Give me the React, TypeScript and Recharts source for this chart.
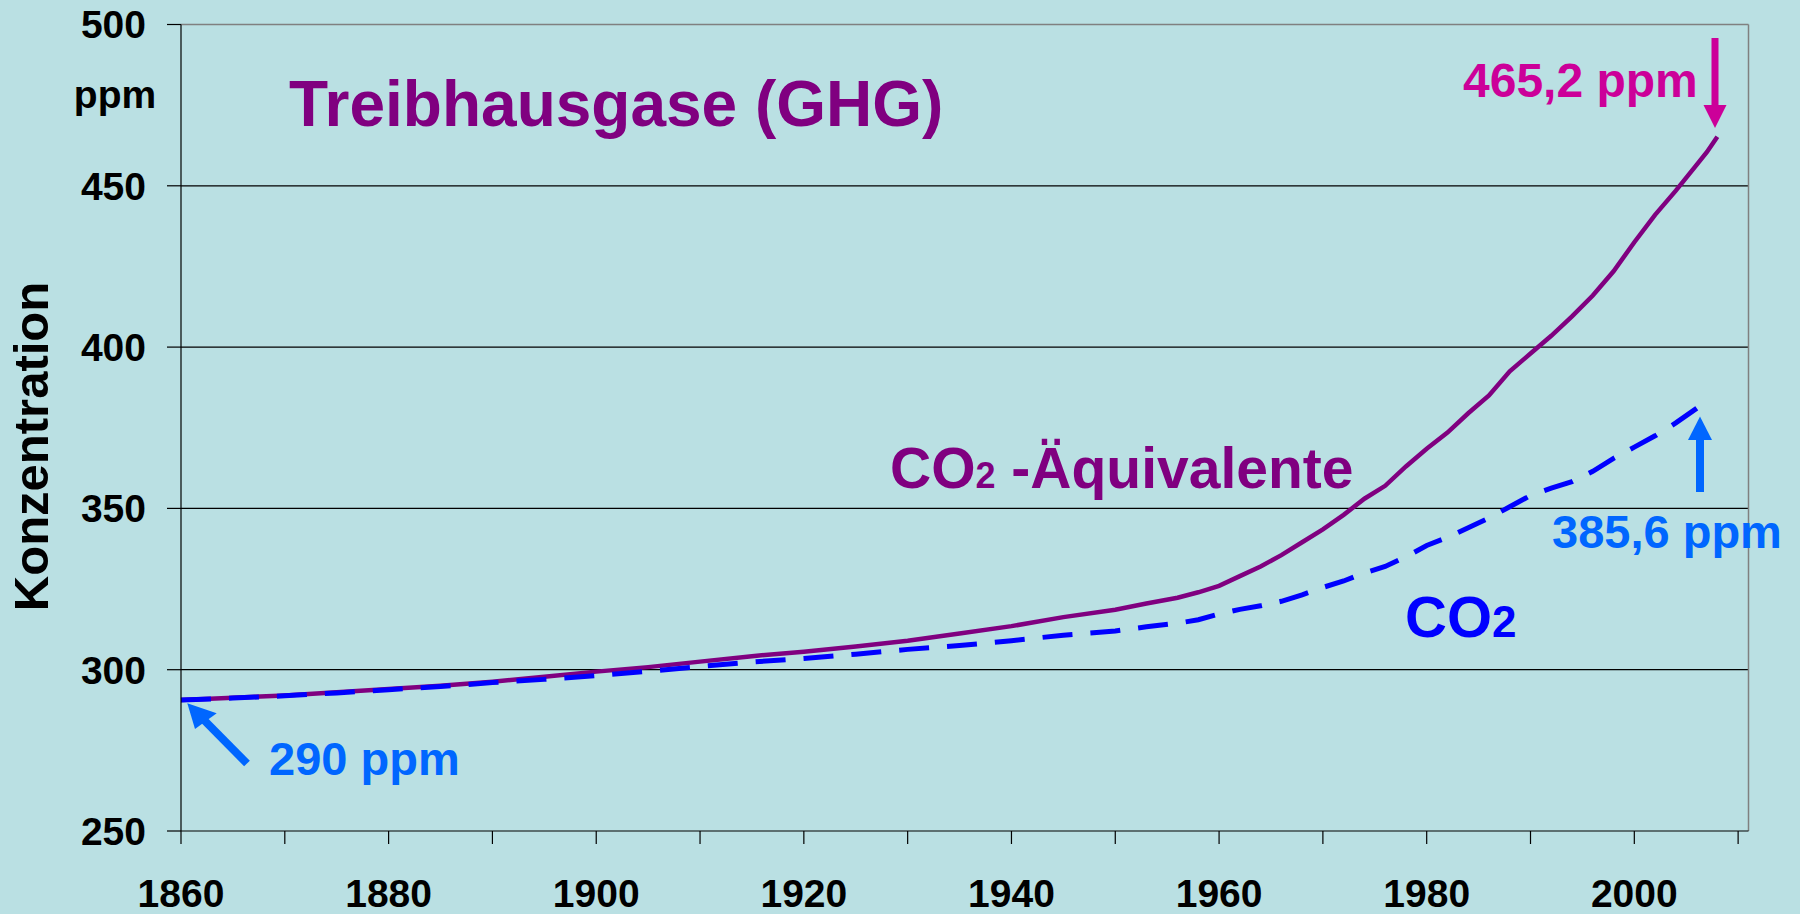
import { LineChart, Line, XAxis, YAxis, ReferenceLine } from "recharts";

const FONT = '"Liberation Sans", Arial, Helvetica, sans-serif';

const years = [
  1860, 1865, 1870, 1875, 1880, 1885, 1890, 1895, 1900, 1905, 1910, 1915, 1920,
  1925, 1930, 1935, 1940, 1945, 1950, 1953, 1956, 1958, 1960, 1962, 1964, 1966,
  1968, 1970, 1972, 1974, 1976, 1978, 1980, 1982, 1984, 1986, 1988, 1990, 1992,
  1994, 1996, 1998, 2000, 2002, 2004, 2006, 2007, 2008,
];

// CO2-Äquivalente (alle Treibhausgase), ppm
const co2eq = [
  290.6, 291.3, 292.0, 293.0, 294.0, 295.0, 296.3, 297.8, 299.4, 300.8, 302.5,
  304.2, 305.6, 307.2, 309.0, 311.2, 313.5, 316.3, 318.6, 320.5, 322.3, 324.0,
  326.0, 329.0, 332.0, 335.5, 339.5, 343.5, 348.0, 353.0, 357.0, 363.0, 368.5,
  373.5, 379.5, 385.0, 392.5, 398.0, 403.5, 409.5, 416.0, 423.5, 432.5, 441.0,
  448.5, 456.5, 460.5, 465.2,
];

// CO2, ppm
const co2 = [
  290.6, 291.2, 291.9, 292.8, 293.8, 294.8, 296.0, 297.0, 298.2, 299.5, 301.0,
  302.4, 303.5, 304.8, 306.3, 307.5, 309.0, 310.7, 312.0, 313.3, 314.4, 315.5,
  317.3, 318.7, 319.8, 321.2, 323.2, 325.5, 327.5, 330.0, 332.0, 335.0, 338.5,
  341.0, 344.0, 347.0, 350.5, 354.0, 356.3, 358.3, 361.5, 365.5, 369.0, 372.5,
  376.5, 381.0, 383.2, null,
];

const yTicks = [250, 300, 350, 400, 450, 500];
const gridValues = [300, 350, 400, 450];
const xTicks = [
  1860, 1870, 1880, 1890, 1900, 1910, 1920, 1930, 1940, 1950, 1960, 1970, 1980,
  1990, 2000, 2010,
];

const data = years.map((year, i) => ({ year, co2eq: co2eq[i], co2: co2[i] }));

const tickStyle = { fill: "#000", fontSize: 39, fontWeight: 700, fontFamily: FONT };

function Annotations() {
  return (
    <svg
      width={1800}
      height={914}
      style={{ position: "absolute", left: 0, top: 0, pointerEvents: "none" }}
      fontFamily={FONT}
      fontWeight={700}
    >
      <text x={115} y={108} textAnchor="middle" fontSize={39} fill="#000">
        ppm
      </text>
      <text
        transform="translate(48,446.5) rotate(-90)"
        textAnchor="middle"
        fontSize={49}
        fill="#000"
      >
        Konzentration
      </text>
      <text x={289} y={126} fontSize={64} fill="#800080">
        Treibhausgase (GHG)
      </text>
      <text x={890} y={488} fontSize={57} fill="#800080">
        CO<tspan fontSize={36}>2</tspan> -Äquivalente
      </text>
      <text x={1405} y={636.5} fontSize={58} fill="#0000FF">
        CO<tspan fontSize={44}>2</tspan>
      </text>

      <text x={1463} y={96.5} fontSize={48} fill="#CC0099">
        465,2 ppm
      </text>
      <line x1={1715} y1={38} x2={1715} y2={106} stroke="#CC0099" strokeWidth={7} />
      <polygon points="1703.5,105 1726.5,105 1715,128" fill="#CC0099" />

      <text x={1552} y={548.3} fontSize={47} fill="#0066FF">
        385,6 ppm
      </text>
      <line x1={1700} y1={492} x2={1700} y2={439} stroke="#0066FF" strokeWidth={8} />
      <polygon points="1688,440 1712,440 1700,416.5" fill="#0066FF" />

      <text x={269} y={775} fontSize={47} fill="#0066FF">
        290 ppm
      </text>
      <line x1={247} y1={763.5} x2={202} y2={718} stroke="#0066FF" strokeWidth={8} />
      <polygon points="187.3,703.3 195,729 216.7,713.3" fill="#0066FF" />
    </svg>
  );
}

export default function App() {
  return (
    <div
      style={{
        position: "absolute",
        left: 0,
        top: 0,
        width: 1800,
        height: 914,
        background: "#BAE0E3",
        overflow: "hidden",
      }}
    >
      <LineChart
        width={1800}
        height={914}
        data={data}
        margin={{ top: 24.5, right: 51.5, left: 0, bottom: 0 }}
      >
        <XAxis
          dataKey="year"
          type="number"
          domain={[1860, 2011]}
          ticks={xTicks}
          interval={0}
          tickFormatter={(v: number) => (v % 20 === 0 && v <= 2000 ? String(v) : "")}
          height={83}
          tickSize={13}
          tickMargin={35.5}
          axisLine={{ stroke: "#000", strokeWidth: 1.2 }}
          tickLine={{ stroke: "#000", strokeWidth: 1.2 }}
          tick={tickStyle}
        />
        <YAxis
          type="number"
          domain={[250, 500]}
          ticks={yTicks}
          interval={0}
          width={181}
          tickSize={14}
          tickMargin={21}
          axisLine={{ stroke: "#000", strokeWidth: 1.2 }}
          tickLine={{ stroke: "#000", strokeWidth: 1.2 }}
          tick={tickStyle}
        />
        {gridValues.map((v) => (
          <ReferenceLine key={v} y={v} stroke="#000" strokeWidth={1.2} />
        ))}
        <ReferenceLine y={500} stroke="#808080" strokeWidth={1.5} />
        <ReferenceLine x={2011} stroke="#808080" strokeWidth={1.5} />
        <Line
          type="linear"
          dataKey="co2eq"
          stroke="#800080"
          strokeWidth={4.5}
          dot={false}
          activeDot={false}
          isAnimationActive={false}
        />
        <Line
          type="linear"
          dataKey="co2"
          stroke="#0000FF"
          strokeWidth={5}
          strokeDasharray="30 18"
          dot={false}
          activeDot={false}
          connectNulls={false}
          isAnimationActive={false}
        />
      </LineChart>
      <Annotations />
    </div>
  );
}
